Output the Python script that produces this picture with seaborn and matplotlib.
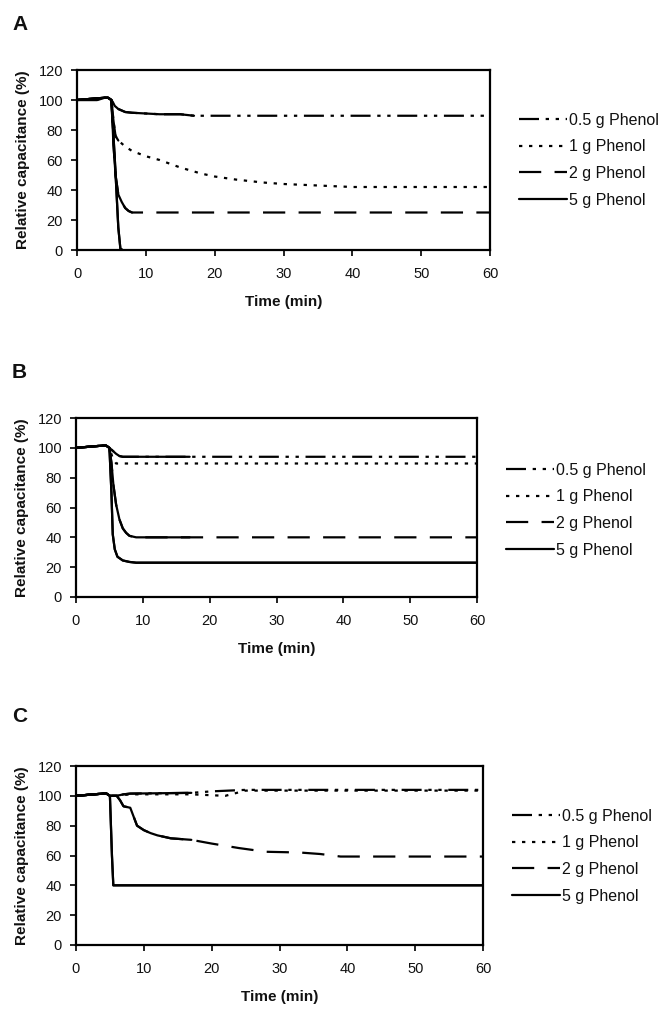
import matplotlib
matplotlib.use('Agg')
import matplotlib.pyplot as plt
import seaborn as sns
import pandas as pd

# ---- data (time in min, relative capacitance in %) ----
series_names = ['0.5 g Phenol', '1 g Phenol', '2 g Phenol', '5 g Phenol']

# panel A
a_05_t = [0, 3, 4, 4.5, 5, 5.5, 6, 7, 8, 10, 12, 15, 17, 60]
a_05_y = [100, 100, 101.5, 101.5, 100, 96, 94, 92, 91.5, 91, 90.5, 90.5, 89.5, 89.5]
a_1_t = [0, 4, 4.5, 5, 5.3, 5.6, 6, 7, 8, 10, 12, 15, 18, 20, 23, 27, 30, 35, 40, 60]
a_1_y = [100, 101.5, 101.5, 100, 86, 76, 73, 69, 66, 62.5, 60, 55, 51, 49, 47, 45, 44, 43, 42, 42]
a_2_t = [0, 4, 4.5, 5, 5.3, 5.6, 6, 6.5, 7, 7.5, 8, 60]
a_2_y = [100, 101.5, 101.5, 100, 70, 50, 37, 32, 28, 26, 25, 25]
a_5_t = [0, 4, 4.5, 5, 5.5, 6, 6.3, 6.6]
a_5_y = [100, 101.5, 101.5, 100, 60, 15, 1, 0]

# panel B
b_05_t = [0, 4, 4.5, 5, 5.5, 6, 6.5, 7, 17, 60]
b_05_y = [100, 101.5, 101.5, 100, 98, 96, 94.5, 94, 94, 94]
b_1_t = [0, 4, 4.5, 5, 5.5, 6, 60]
b_1_y = [100, 101.5, 101.5, 100, 93, 89.5, 89.5]
b_2_t = [0, 4, 4.5, 5, 5.3, 5.6, 6, 6.5, 7, 7.5, 8, 9, 17, 60]
b_2_y = [100, 101.5, 101.5, 100, 90, 75, 62, 52, 46, 43, 41, 40, 40, 40]
b_5_t = [0, 4, 4.5, 5, 5.3, 5.5, 5.8, 6.2, 7, 8, 9, 60]
b_5_y = [100, 101.5, 101.5, 100, 70, 42, 32, 27, 24.5, 23.5, 23, 23]

# panel C
c_05_t = [0, 4, 4.5, 5, 6, 7, 8, 17, 20, 25, 60]
c_05_y = [100, 101.5, 101.5, 100, 100, 101, 101.5, 102, 103, 104, 104]
c_1_t = [0, 4, 4.5, 5, 6, 7, 8, 17, 22, 25, 60]
c_1_y = [100, 101.5, 101.5, 100, 100, 100.5, 101, 101, 100, 103.5, 103.5]
c_2_t = [0, 4, 4.5, 5, 6, 6.5, 7, 8, 8.5, 9, 10, 11, 12, 14, 17, 20, 24, 28, 33, 36, 39, 60]
c_2_y = [100, 101.5, 101.5, 100, 100, 97, 93, 92, 86, 80, 77, 75, 73.5, 71.5, 70.5, 68, 65, 62.5, 62, 61, 59.3, 59.3]
c_5_t = [0, 4, 4.5, 5, 5.3, 5.5, 60]
c_5_y = [100, 101.5, 101.5, 100, 60, 40, 40]

x_ticks = [0, 10, 20, 30, 40, 50, 60]
y_ticks = [0, 20, 40, 60, 80, 100, 120]

# where the dense early points make each line look solid in the original
solid_until = {
    'A': {'0.5 g Phenol': 17, '1 g Phenol': 6, '2 g Phenol': 8, '5 g Phenol': 60},
    'B': {'0.5 g Phenol': 17, '1 g Phenol': 0, '2 g Phenol': 17, '5 g Phenol': 60},
    'C': {'0.5 g Phenol': 17, '1 g Phenol': 6, '2 g Phenol': 17, '5 g Phenol': 60},
}


def to_frame(pairs):
    rows = []
    for name, (t, y) in zip(series_names, pairs):
        for ti, yi in zip(t, y):
            rows.append({'time': ti, 'cap': yi, 'series': name})
    return pd.DataFrame(rows)


panels = {
    'A': to_frame([(a_05_t, a_05_y), (a_1_t, a_1_y), (a_2_t, a_2_y), (a_5_t, a_5_y)]),
    'B': to_frame([(b_05_t, b_05_y), (b_1_t, b_1_y), (b_2_t, b_2_y), (b_5_t, b_5_y)]),
    'C': to_frame([(c_05_t, c_05_y), (c_1_t, c_1_y), (c_2_t, c_2_y), (c_5_t, c_5_y)]),
}

sns.set_style('ticks')
plt.rcParams['font.family'] = ['Liberation Sans', 'DejaVu Sans']
plt.rcParams['text.color'] = '#111111'
plt.rcParams['axes.labelcolor'] = '#111111'

W, H = 665, 1009
fig = plt.figure(figsize=(W / 100, H / 100), dpi=100)

# pixel boxes: left, right, top, bottom of each axes; legend top-left; letter y
layout = {
    'A': dict(box=(77, 490, 70, 250), leg=(519, 113), lab=25),
    'B': dict(box=(76, 477, 418, 597), leg=(506, 463), lab=373),
    'C': dict(box=(76, 483, 766, 945), leg=(512, 809), lab=717),
}

dashes = {
    '0.5 g Phenol': (9, 3, 1.5, 3, 1.5, 3),
    '1 g Phenol': (1.5, 3),
    '2 g Phenol': (10, 6),
    '5 g Phenol': '',
}

line_w = 1.6

for key, df in panels.items():
    l, r, t, b = layout[key]['box']
    ax = fig.add_axes([l / W, 1 - b / H, (r - l) / W, (b - t) / H])

    sns.lineplot(data=df, x='time', y='cap', style='series', style_order=series_names,
                 dashes=dashes, color='black', linewidth=line_w, estimator=None,
                 sort=False, ax=ax)

    # early, densely sampled part drawn solid
    cut = df['series'].map(solid_until[key])
    early = df[df['time'] <= cut]
    sns.lineplot(data=early, x='time', y='cap', units='series', color='black',
                 linewidth=line_w, estimator=None, sort=False, legend=False, ax=ax)

    ax.set_xlim(0, 60)
    ax.set_ylim(0, 120)
    ax.set_xticks(x_ticks)
    ax.set_yticks(y_ticks)
    ax.tick_params(axis='both', direction='out', length=4, width=1.3,
                   labelsize=10.5, colors='#111111')
    ax.tick_params(axis='x', pad=8)
    ax.tick_params(axis='y', pad=6)
    for s in ax.spines.values():
        s.set_linewidth(1.6)
        s.set_color('black')
        s.set_visible(True)
    ax.set_xlabel('Time (min)', fontsize=11, fontweight='bold', labelpad=10)
    ax.set_ylabel('Relative capacitance (%)', fontsize=11, fontweight='bold', labelpad=6)

    lx, ly = layout[key]['leg']
    sns.move_legend(ax, 'upper left', bbox_to_anchor=(lx / W, 1 - ly / H),
                    bbox_transform=fig.transFigure, frameon=False, title=None,
                    fontsize=11.5, handlelength=3.0, handletextpad=0.15,
                    labelspacing=0.72, borderaxespad=0, borderpad=0)

    fig.text(12 / W, 1 - layout[key]['lab'] / H, key, fontsize=15, fontweight='bold',
             va='center', ha='left')

fig.savefig('out.png', dpi=100)
